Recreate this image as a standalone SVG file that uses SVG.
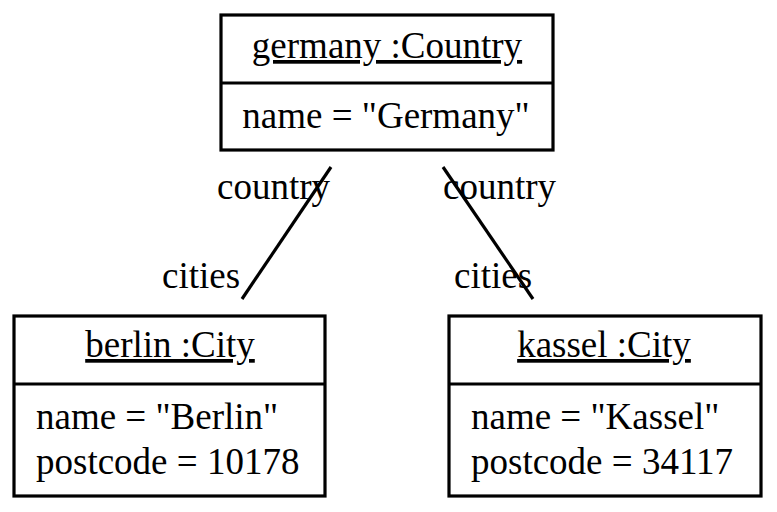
<svg xmlns="http://www.w3.org/2000/svg" width="777" height="512" viewBox="0 0 777 512">
<style>
.box{fill:#fff;stroke:#000;stroke-width:3.2}
.div{stroke:#000;stroke-width:3.2}
text{font-family:"Liberation Serif","Times New Roman",serif;font-size:37px;fill:#000}
.t{text-anchor:middle;text-decoration:underline}
.c{text-anchor:middle}
.conn line{stroke:#000;stroke-width:3.2}
</style>
<rect width="777" height="512" fill="#fff"/>
<g id="germany">
<rect class="box" x="221" y="15" width="332" height="135"/>
<line class="div" x1="221" y1="83" x2="553" y2="83"/>
<text class="t" x="387" y="58">germany :Country</text>
<text class="c" x="386" y="128">name = "Germany"</text>
</g>
<g id="berlin">
<rect class="box" x="14" y="316" width="311" height="180"/>
<line class="div" x1="14" y1="384" x2="325" y2="384"/>
<text class="t" x="170" y="357">berlin :City</text>
<text x="36" y="429">name = "Berlin"</text>
<text x="36" y="474">postcode = 10178</text>
</g>
<g id="kassel">
<rect class="box" x="449" y="316" width="312" height="180"/>
<line class="div" x1="449" y1="384" x2="761" y2="384"/>
<text class="t" x="604" y="357">kassel :City</text>
<text x="471" y="429">name = "Kassel"</text>
<text x="471" y="474">postcode = 34117</text>
</g>
<g class="conn" id="connectors">
<line x1="331" y1="167" x2="242" y2="299"/>
<line x1="443" y1="167" x2="533" y2="299"/>
<text x="217" y="199">country</text>
<text x="162" y="288">cities</text>
<text x="443" y="199">country</text>
<text x="454" y="288">cities</text>
</g>
</svg>
